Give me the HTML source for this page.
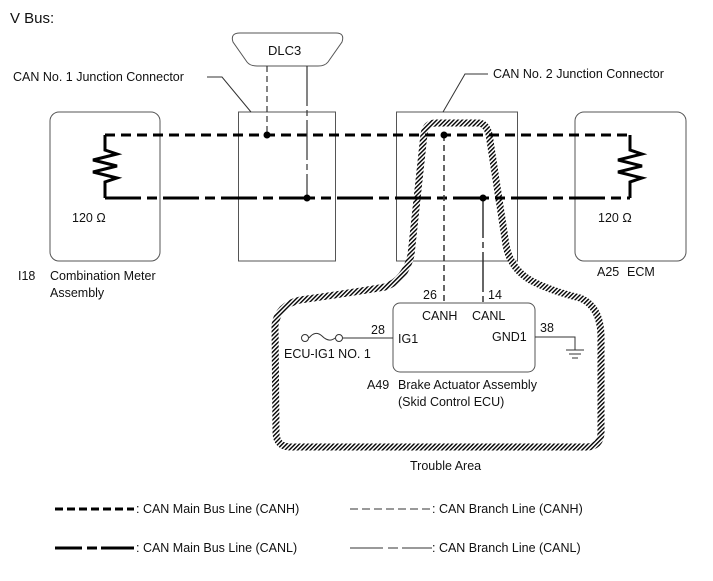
<!DOCTYPE html>
<html><head><style>
body{margin:0;background:#fff}
svg{display:block}
text{font-family:"Liberation Sans",Arial,sans-serif;font-size:12.5px;fill:#111}
</style></head><body>
<svg width="713" height="581" viewBox="0 0 713 581" xmlns="http://www.w3.org/2000/svg">
<defs>
<pattern id="h" width="3" height="3" patternUnits="userSpaceOnUse" patternTransform="rotate(45)">
<rect width="3" height="3" fill="#fff"/><rect width="1.4" height="3" fill="#000"/>
</pattern>
</defs>
<text x="10" y="23" style="font-size:15px">V Bus:</text>

<rect x="50" y="112" width="110" height="149" rx="9" fill="none" stroke="#555" stroke-width="1"/>
<rect x="575" y="112" width="111" height="149" rx="9" fill="none" stroke="#555" stroke-width="1"/>
<rect x="238.5" y="112" width="97" height="149" fill="none" stroke="#555" stroke-width="1"/>
<rect x="396.5" y="112" width="121" height="149" fill="none" stroke="#555" stroke-width="1"/>

<path d="M240,33 H336 Q345,33 342,42 L328,62 Q325,66 318,66 H257 Q250,66 247,62 L233,42 Q230,33 240,33 Z" fill="#fff" stroke="#555"/>
<text x="268" y="55" style="font-size:13px">DLC3</text>

<text x="13" y="81">CAN No. 1 Junction Connector</text>
<path d="M207,77 H222 L251,112" fill="none" stroke="#333"/>
<text x="493" y="78">CAN No. 2 Junction Connector</text>
<path d="M488,74 H465 L443,112" fill="none" stroke="#333"/>

<path d="M424,134 Q426,123 436,123 H478 Q486,123 489,134 L506,245 Q510,268 530,280 Q548,290 580,298 Q600,306 601,335 V432 Q601,447 586,447 H291 Q276,447 276,432 L275,325 Q278,305 300,300 Q350,293 385,287 Q405,280 411,255 Z" fill="none" stroke="url(#h)" stroke-width="7"/>

<path d="M105,135 H630" stroke="#000" stroke-width="3" stroke-dasharray="10,6" fill="none"/>
<path d="M105,198 H630" stroke="#000" stroke-width="3" stroke-dasharray="36,6,10,6" fill="none"/>
<path d="M105,135 V150 L117,154 L93,160 L117,166 L93,172 L117,178 L105,182 V198" fill="none" stroke="#000" stroke-width="3"/>
<path d="M630,135 V150 L642,154 L618,160 L642,166 L618,172 L642,178 L630,182 V198" fill="none" stroke="#000" stroke-width="3"/>
<text x="72" y="222">120 Ω</text>
<text x="598" y="222">120 Ω</text>

<path d="M267,66 V135" stroke="#333" stroke-width="1.2" stroke-dasharray="6,4"/>
<path d="M307,66 V198" stroke="#333" stroke-width="1.2" stroke-dasharray="40,4,6,4"/>
<path d="M444,135 V303" stroke="#333" stroke-width="1.5" stroke-dasharray="6,4"/>
<path d="M483,198 V303" stroke="#333" stroke-width="1.5" stroke-dasharray="40,4,6,4"/>
<circle cx="267" cy="135" r="3.5"/><circle cx="307" cy="198" r="3.5"/>
<circle cx="444" cy="135" r="3.5"/><circle cx="483" cy="198" r="3.5"/>

<text x="18" y="280">I18</text>
<text x="50" y="280">Combination Meter</text>
<text x="50" y="297">Assembly</text>
<text x="597" y="276">A25</text>
<text x="627" y="276">ECM</text>

<rect x="393" y="303" width="142" height="69" rx="7" fill="#fff" stroke="#555"/>
<text x="423" y="299">26</text><text x="488" y="299">14</text>
<text x="422" y="320">CANH</text><text x="472" y="320">CANL</text>
<text x="398" y="343">IG1</text><text x="492" y="341">GND1</text>
<text x="371" y="334">28</text><text x="540" y="332">38</text>
<circle cx="305" cy="338" r="3.5" fill="#fff" stroke="#333"/>
<circle cx="339" cy="338" r="3.5" fill="#fff" stroke="#333"/>
<path d="M309,338 Q315,330 322,336 Q329,343 335,338" fill="none" stroke="#333"/>
<path d="M343,338 H393" stroke="#333"/>
<text x="284" y="358">ECU-IG1 NO. 1</text>
<path d="M535,337 H575 V350 M566,350 H584 M569,354 H581 M572,358 H578" fill="none" stroke="#333"/>
<text x="367" y="389">A49</text>
<text x="398" y="389">Brake Actuator Assembly</text>
<text x="398" y="406">(Skid Control ECU)</text>
<text x="410" y="470">Trouble Area</text>

<path d="M55,509 H134" stroke="#000" stroke-width="3" stroke-dasharray="8,4"/>
<text x="136" y="513">: CAN Main Bus Line (CANH)</text>
<path d="M350,509 H432" stroke="#333" stroke-width="1" stroke-dasharray="8,4"/>
<text x="432" y="513">: CAN Branch Line (CANH)</text>
<path d="M55,548 H82 M87,548 H97 M101,548 H134" stroke="#000" stroke-width="3"/>
<text x="136" y="552">: CAN Main Bus Line (CANL)</text>
<path d="M350,548 H383 M388,548 H398 M402,548 H432" stroke="#333" stroke-width="1"/>
<text x="432" y="552">: CAN Branch Line (CANL)</text>
</svg>
</body></html>
